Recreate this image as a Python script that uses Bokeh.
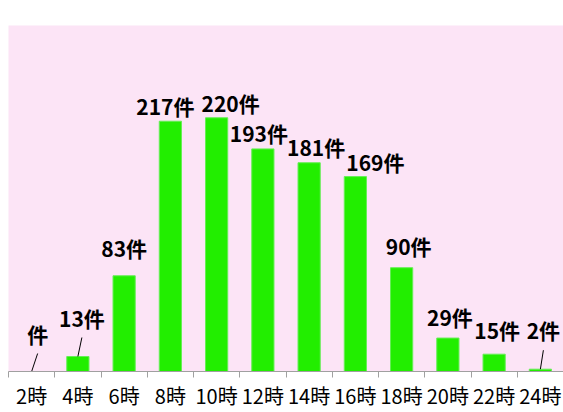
from bokeh.plotting import figure
from bokeh.models import ColumnDataSource, FixedTicker, Range1d
from bokeh.core.properties import value
from bokeh.embed import file_html
from bokeh.resources import INLINE

categories = ["2時", "4時", "6時", "8時", "10時", "12時", "14時", "16時", "18時", "20時", "22時", "24時"]
counts = [0, 13, 83, 217, 220, 193, 181, 169, 90, 29, 15, 2]
label_texts = ["件", "13件", "83件", "217件", "220件", "193件", "181件", "169件", "90件", "29件", "15件", "2件"]
# label placement (pixels): horizontal shift and gap above bar top
label_dx = [6, 4, 0, -5, 14, -4, 7, 20, 7, 2, 3, 3]
label_gap = [27, 28, 17, 4, 4, 5, 5, 4, 11, 10, 13, 28]
# leader lines for small values (category index)
leader_idx = [0, 1, 11]

FRAME_W, FRAME_H = 555, 346
Y_MAX = 300
xs = [i + 0.5 for i in range(len(categories))]
src = ColumnDataSource(dict(x=xs, top=counts, text=label_texts,
                            dx=label_dx, dy=[-g + 4 for g in label_gap]))

p = figure(width=563, height=412, output_backend="svg", toolbar_location=None,
           x_range=Range1d(0, len(categories)), y_range=Range1d(0, Y_MAX),
           y_axis_location=None, min_border_left=8, min_border_right=0,
           min_border_top=25, min_border_bottom=41)
p.outline_line_color = None
p.background_fill_color = "#fce4f6"
p.border_fill_color = "white"
p.grid.visible = False

p.vbar(x="x", top="top", width=0.48, source=src, fill_color="#22ee00",
       line_color="#66ee55", line_width=1)

p.text(x="x", y="top", text="text", source=src, x_offset="dx", y_offset="dy",
       text_align="center", text_baseline="bottom",
       text_font=value("Noto Sans CJK JP"), text_font_style="bold",
       text_font_size="21px", text_color="black")

# leader lines from bar top to just below the label
px_x = len(categories) / FRAME_W
px_y = Y_MAX / FRAME_H
lx0 = [xs[i] for i in leader_idx]
ly0 = [counts[i] for i in leader_idx]
lx1 = [xs[i] + label_dx[i] * px_x for i in leader_idx]
ly1 = [counts[i] + (label_gap[i] - 9) * px_y for i in leader_idx]
p.segment(x0=lx0, y0=ly0, x1=lx1, y1=ly1, line_color="black", line_width=1)

ax = p.xaxis[0]
ax.ticker = FixedTicker(ticks=xs, minor_ticks=list(range(len(categories) + 1)))
ax.major_label_overrides = {x: c for x, c in zip(xs, categories)}
ax.major_tick_out = 0
ax.major_tick_in = 0
ax.minor_tick_out = 6
ax.minor_tick_in = 0
ax.minor_tick_line_color = "#a0a0a0"
ax.axis_line_color = "#a0a0a0"
ax.major_label_standoff = 3
ax.major_label_text_font = "Noto Sans CJK JP"
ax.major_label_text_font_size = "20px"
ax.major_label_text_color = "black"

html = file_html(p, INLINE)
open("out.html", "w").write(html)
